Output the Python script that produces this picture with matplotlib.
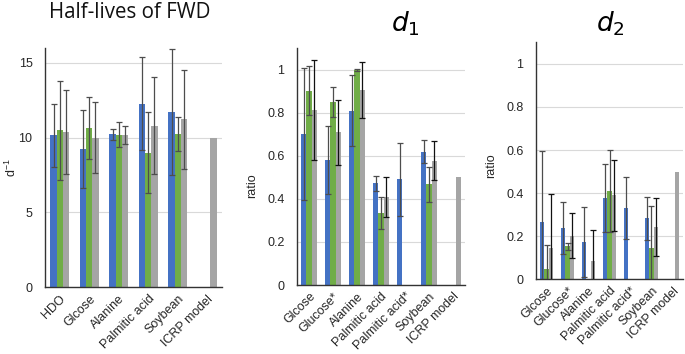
import matplotlib
matplotlib.use("Agg")
import matplotlib.pyplot as plt
import numpy as np

BLUE = "#4472C4"
GREEN = "#70AD47"
GREY = "#A5A5A5"
ERR = "#4D4D4D"
GRID = "#D9D9D9"

# Half-lives of FWD (d^-1)
HL_CATS = ["HDO", "Glcose", "Alanine", "Palmitic acid", "Soybean", "ICRP model"]
HL_BLUE = [10.15, 9.25, 10.22, 12.27, 11.71, np.nan]
HL_BLUE_ERR = [2.1, 2.6, 0.37, 3.1, 4.2, np.nan]
HL_GREEN = [10.49, 10.62, 10.18, 9.0, 10.22, np.nan]
HL_GREEN_ERR = [3.3, 2.07, 0.83, 2.7, 1.15, np.nan]
HL_GREY = [10.36, 10.0, 10.18, 10.8, 11.22, 10.0]
HL_GREY_ERR = [2.8, 2.35, 0.58, 3.24, 3.3, np.nan]

# d1 ratio
D_CATS = ["Glcose", "Glucose*", "Alanine", "Palmitic acid", "Palmitic acid*", "Soybean", "ICRP model"]
D1_BLUE = [0.702, 0.582, 0.81, 0.472, 0.491, 0.62, np.nan]
D1_BLUE_ERR = [0.308, 0.159, 0.165, 0.036, 0.17, 0.053, np.nan]
D1_GREEN = [0.903, 0.849, 0.998, 0.335, np.nan, 0.468, np.nan]
D1_GREEN_ERR = [0.115, 0.07, 0.004, 0.076, np.nan, 0.082, np.nan]
D1_GREY = [0.813, 0.71, 0.906, 0.409, np.nan, 0.577, 0.5]
D1_GREY_ERR = [0.234, 0.151, 0.13, 0.093, np.nan, 0.091, np.nan]

# d2 ratio
D2_BLUE = [0.267, 0.239, 0.173, 0.377, 0.33, 0.284, np.nan]
D2_BLUE_ERR = [0.327, 0.12, 0.162, 0.158, 0.143, 0.1, np.nan]
D2_GREEN = [0.048, 0.154, np.nan, 0.41, np.nan, 0.145, np.nan]
D2_GREEN_ERR = [0.111, 0.016, np.nan, 0.192, np.nan, 0.196, np.nan]
D2_GREY = [0.147, 0.202, 0.086, 0.39, np.nan, 0.242, 0.5]
D2_GREY_ERR = [0.251, 0.104, 0.142, 0.164, np.nan, 0.135, np.nan]

W, H = 685, 354


def draw_panel(ax, cats, series, ylim, yticks, ylabel, ticklabels=None):
    x = np.arange(len(cats))
    width = 0.21
    offsets = [-0.21, 0.0, 0.21]
    for off, (vals, errs, color, ecol) in zip(offsets, series):
        ax.bar(x + off, vals, width, color=color, zorder=2)
        ax.errorbar(x + off, vals, yerr=errs, fmt="none", ecolor=ecol,
                    elinewidth=0.9, capsize=2.0, capthick=0.9, zorder=3)
    ax.set_xlim(-0.5, len(cats) - 0.5)
    ax.set_ylim(*ylim)
    ax.set_yticks(yticks)
    if ticklabels is not None:
        ax.set_yticklabels(ticklabels)
    ax.yaxis.grid(True, color=GRID, linewidth=0.8, zorder=0)
    ax.set_axisbelow(True)
    ax.set_xticks(x)
    ax.set_xticklabels(cats, rotation=45, ha="right", rotation_mode="anchor",
                       fontsize=9, color="#262626")
    ax.tick_params(axis="both", length=0, colors="#262626")
    ax.tick_params(axis="y", labelsize=9, pad=9)
    ax.tick_params(axis="x", pad=4)
    for side in ["top", "right"]:
        ax.spines[side].set_visible(False)
    ax.spines["left"].set_color("#333333")
    ax.spines["bottom"].set_color("#333333")
    ax.spines["left"].set_linewidth(1.0)
    ax.spines["bottom"].set_linewidth(1.0)
    ax.set_ylabel(ylabel, fontsize=9, color="#262626")


def axes_rect(left, right, bottom, top):
    return [left / W, 1 - bottom / H, (right - left) / W, (bottom - top) / H]


plt.rcParams["font.family"] = ["Liberation Sans", "DejaVu Sans"]
fig = plt.figure(figsize=(W / 100, H / 100), dpi=100)
fig.patch.set_facecolor("white")

ax1 = fig.add_axes(axes_rect(45, 222, 287.3, 47.7))
draw_panel(ax1, HL_CATS,
           [(HL_BLUE, HL_BLUE_ERR, BLUE, ERR),
            (HL_GREEN, HL_GREEN_ERR, GREEN, ERR),
            (HL_GREY, HL_GREY_ERR, GREY, ERR)],
           (0, 16), [0, 5, 10, 15], r"d$^{\mathregular{-1}}$")
# label coords give the right edge of the rotated label
ax1.yaxis.set_label_coords(-(45 - 19) / 177, 0.5)

ax2 = fig.add_axes(axes_rect(297, 465, 285, 48.3))
draw_panel(ax2, D_CATS,
           [(D1_BLUE, D1_BLUE_ERR, BLUE, ERR),
            (D1_GREEN, D1_GREEN_ERR, GREEN, ERR),
            (D1_GREY, D1_GREY_ERR, GREY, "#111111")],
           (0, 1.1), [0, 0.2, 0.4, 0.6, 0.8, 1.0], "ratio",
           ["0", "0.2", "0.4", "0.6", "0.8", "1"])
ax2.yaxis.set_label_coords(-(297 - 258) / 168, 0.42)

ax3 = fig.add_axes(axes_rect(536, 683, 279.3, 42.3))
draw_panel(ax3, D_CATS,
           [(D2_BLUE, D2_BLUE_ERR, BLUE, ERR),
            (D2_GREEN, D2_GREEN_ERR, GREEN, ERR),
            (D2_GREY, D2_GREY_ERR, GREY, "#111111")],
           (0, 1.1), [0, 0.2, 0.4, 0.6, 0.8, 1.0], "ratio",
           ["0", "0.2", "0.4", "0.6", "0.8", "1"])
ax3.yaxis.set_label_coords(-(536 - 497) / 147, 0.48)

fig.text(130 / W, 1 - 13 / H, "Half-lives of FWD", ha="center", va="center",
         fontsize=14.8, family=["Open Sans", "DejaVu Sans"], color="#111111")
fig.text(405 / W, 1 - 24 / H, r"$d_1$", ha="center", va="center", fontsize=19)
fig.text(610 / W, 1 - 24 / H, r"$d_2$", ha="center", va="center", fontsize=19)

fig.savefig("out.png", dpi=100)
